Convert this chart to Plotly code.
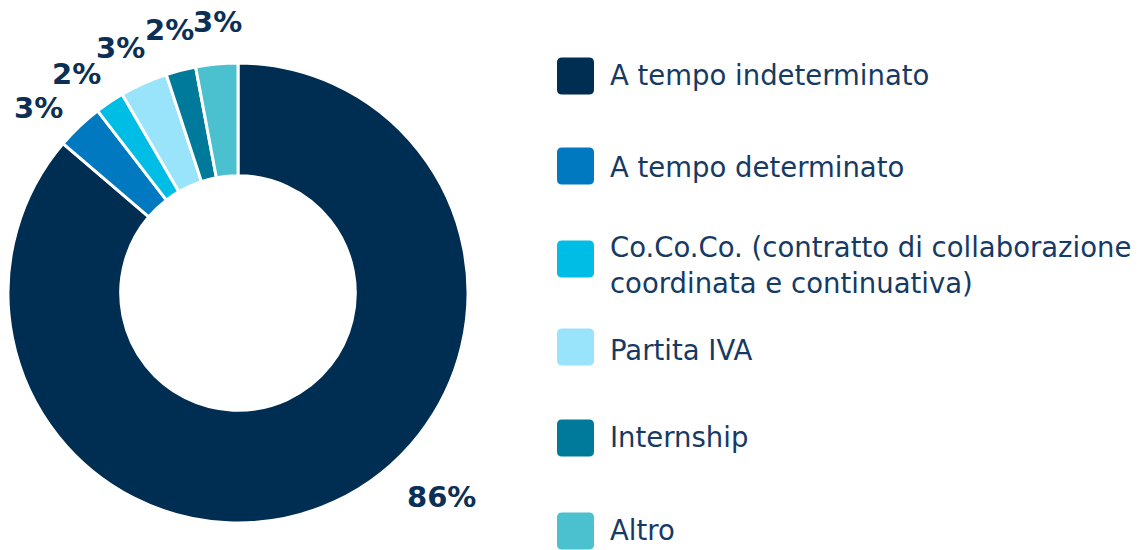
import math
import plotly.graph_objects as go

categories = ["A tempo indeterminato", "A tempo determinato",
              "Co.Co.Co. (contratto di collaborazione<br>coordinata e continuativa)",
              "Partita IVA", "Internship", "Altro"]
values = [86.25, 3.3, 2.05, 3.35, 2.1, 2.95]
colors = ["#002D52", "#0079C0", "#00BDE6", "#99E4FA", "#007A9A", "#4BC0CE"]

# the page body has an 8px margin, so the figure is drawn 8px in from the window edge
OFF = 8
W, H = 1143 - OFF, 550 - OFF
CX, CY, R = 238 - OFF, 293 - OFF, 230  # pie centre / radius in pixels (figure coords)


def px(x):
    return x / W


def py(y):
    return 1 - y / H


fig = go.Figure()
fig.add_trace(go.Pie(
    labels=categories, values=values, sort=False, direction="clockwise", rotation=0,
    hole=0.51, marker=dict(colors=colors, line=dict(color="white", width=3)),
    textposition="none",
    domain=dict(x=[px(CX - R), px(CX + R)], y=[py(CY + R), py(CY - R)]),
    showlegend=False, hoverinfo="label+percent",
))

# percentage labels placed radially outside the ring (small ones fanned out slightly)
total = sum(values)
cum = 0
for v in values:
    mid = (cum + v / 2) / total * 360
    cum += v
    pct = f"{round(v / total * 100)}%"
    if v / total > 0.5:
        ang, dist = 135, 288
    else:
        ang, dist = 340 + (mid - 340) * 1.12 - 0.8, 272
    lx = CX + dist * math.sin(math.radians(ang))
    ly = CY - dist * math.cos(math.radians(ang))
    fig.add_annotation(x=px(lx), y=py(ly), xref="paper", yref="paper",
                       text=pct, showarrow=False, xanchor="center", yanchor="middle",
                       font=dict(family="DejaVu Sans", size=29, color="#0B2F55", weight="bold"))

leg_y = [76, 166, 259, 347, 438, 531]
text_y = [75, 167, 265, 350, 437, 530]

for cat, col, sy, ty in zip(categories, colors, leg_y, text_y):
    x0, x1 = 557 - OFF, 594 - OFF
    y0, y1 = sy - 18.5 - OFF, sy + 18.5 - OFF
    r = 5
    path = (f"M {px(x0+r)},{py(y0)} L {px(x1-r)},{py(y0)} Q {px(x1)},{py(y0)} {px(x1)},{py(y0+r)} "
            f"L {px(x1)},{py(y1-r)} Q {px(x1)},{py(y1)} {px(x1-r)},{py(y1)} "
            f"L {px(x0+r)},{py(y1)} Q {px(x0)},{py(y1)} {px(x0)},{py(y1-r)} "
            f"L {px(x0)},{py(y0+r)} Q {px(x0)},{py(y0)} {px(x0+r)},{py(y0)} Z")
    fig.add_shape(type="path", path=path, xref="paper", yref="paper",
                  fillcolor=col, line=dict(width=0))
    fig.add_annotation(x=px(608 - OFF), y=py(ty - OFF), xref="paper", yref="paper",
                       text=cat, showarrow=False, xanchor="left", yanchor="middle",
                       align="left",
                       font=dict(family="DejaVu Sans", size=27.5, color="#163A63"))

fig.update_layout(width=W, height=H, margin=dict(l=0, r=0, t=0, b=0, autoexpand=False),
                  paper_bgcolor="white", plot_bgcolor="white")
fig.write_html("out.html")
